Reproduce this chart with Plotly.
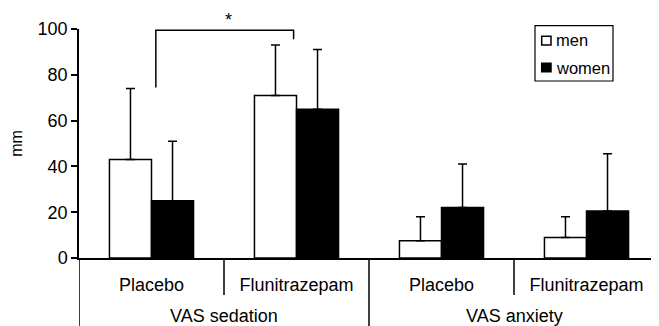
import plotly.graph_objects as go

conditions = ["Placebo", "Flunitrazepam", "Placebo", "Flunitrazepam"]
scales = ["VAS sedation", "VAS anxiety"]
series_names = ["men", "women"]
men_mean = [43, 71, 7.5, 9]
men_sd = [31, 22, 10.5, 9]
women_mean = [25, 65, 22, 20.5]
women_sd = [26, 26, 19, 25]
y_ticks = [0, 20, 40, 60, 80, 100]

FONT = "Liberation Sans, Arial, sans-serif"
OFF = 8  # default page body margin
W, H = 659 - OFF, 326 - OFF
ML, MR, MT, MB = 79 - OFF, 0, 29 - OFF, 68
PW, PH = W - ML - MR, H - MT - MB


def px(x):
    return (x - OFF - ML) / PW


def py(y):
    return (H - MB - (y - OFF)) / PH


xpos = list(range(len(conditions)))
fills = ["white", "black"]

fig = go.Figure()
for name, mean, sd, fill in zip(series_names, [men_mean, women_mean], [men_sd, women_sd], fills):
    fig.add_trace(go.Bar(
        x=xpos, y=mean, name=name, showlegend=False,
        marker=dict(color=fill, line=dict(color="black", width=1.5)),
        error_y=dict(type="data", array=sd, arrayminus=[0] * len(sd), symmetric=False,
                     color="black", thickness=1.5, width=4.5),
    ))

line = dict(color="black", width=1.5)
# axis extension / group separators below the baseline
fig.add_shape(type="line", xref="x", yref="paper", x0=-0.5, x1=-0.5, y0=0, y1=py(330), line=line)
fig.add_shape(type="line", xref="x", yref="paper", x0=1.5, x1=1.5, y0=0, y1=py(330), line=line)
for xs in (0.5, 2.5):
    fig.add_shape(type="line", xref="x", yref="paper", x0=xs, x1=xs, y0=0, y1=py(295), line=line)

# significance bracket
fig.add_shape(type="path", xref="x", yref="y",
              path="M 0.03 74.5 L 0.03 99.5 L 0.98 99.5 L 0.98 95.5", line=line)
fig.add_annotation(x=0.53, y=py(20), xref="x", yref="paper", text="*", showarrow=False,
                   yanchor="middle", font=dict(size=18, color="black", family=FONT))

for i, s in enumerate(scales):
    fig.add_annotation(x=2 * i + 0.5, y=py(316), xref="x", yref="paper", text=s,
                       showarrow=False, yanchor="middle",
                       font=dict(size=18, color="black", family=FONT))

# legend box
fig.add_shape(type="rect", xref="paper", yref="paper", x0=px(535), x1=px(613),
              y0=py(81), y1=py(25.7), line=dict(color="black", width=1.2), fillcolor="white")
for name, fill, (t, b), ty in zip(series_names, fills, [(36.3, 45), (63.3, 71.7)], [40.5, 67.5]):
    fig.add_shape(type="rect", xref="paper", yref="paper", x0=px(541.7), x1=px(551),
                  y0=py(b), y1=py(t), line=dict(color="black", width=1.5), fillcolor=fill)
    fig.add_annotation(x=px(554), y=py(ty), xref="paper", yref="paper", text=name,
                       showarrow=False, xanchor="left", yanchor="middle",
                       font=dict(size=16.5, color="black", family=FONT))

fig.update_layout(
    width=W, height=H,
    margin=dict(l=ML, r=MR, t=MT, b=MB, autoexpand=False),
    plot_bgcolor="white", paper_bgcolor="white",
    barmode="group", bargap=0.42, bargroupgap=0,
    font=dict(family=FONT, size=18, color="black"),
    showlegend=False,
    xaxis=dict(range=[-0.5, 3.5], tickvals=xpos, ticktext=conditions,
               showline=True, linecolor="black", linewidth=1.5,
               ticks="", showgrid=False, zeroline=False, automargin=False,
               ticklabelstandoff=10),
    yaxis=dict(range=[0, 100], tickvals=y_ticks, showline=True, linecolor="black",
               linewidth=1.5, ticks="outside", ticklen=6, tickwidth=1.5, tickcolor="black",
               showgrid=False, zeroline=False, automargin=False,
               title=dict(text="mm", font=dict(size=16), standoff=16)),
)

fig.write_html("out.html")
